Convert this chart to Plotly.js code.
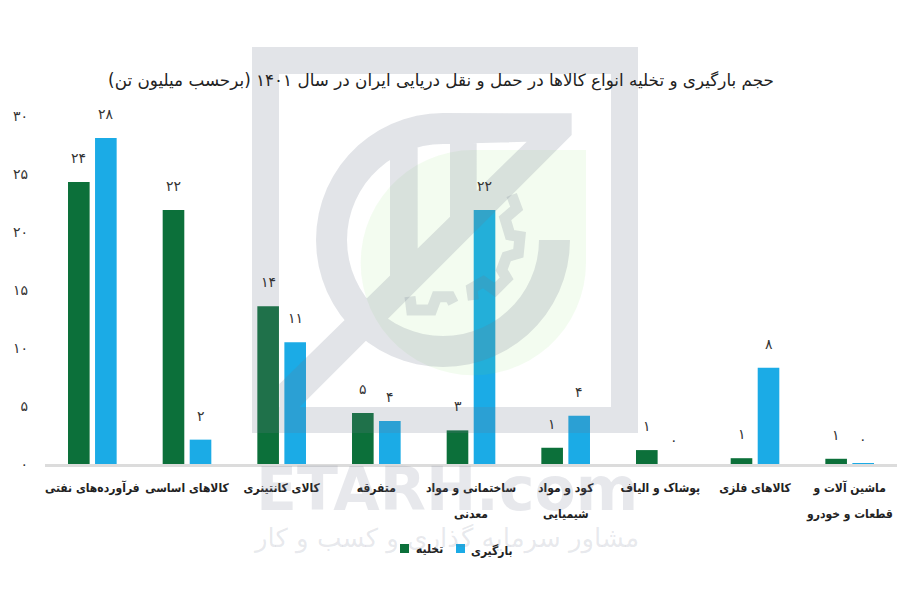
<!DOCTYPE html>
<html><head><meta charset="utf-8">
<script src="https://cdn.plot.ly/plotly-3.0.1.min.js"></script>
<style>html,body{margin:0;padding:0;background:#fff}</style>
</head><body><div id="chart" style="width:900px;height:600px"></div>
<script>
const categories=['فرآورده‌های نفتی','کالاهای اساسی','کالای کانتینری','متفرقه','ساختمانی و مواد','کود و مواد','پوشاک و الیاف','کالاهای فلزی','ماشین آلات و'];
const categoryLine2=['','','','','معدنی','شیمیایی','','','قطعات و خودرو'];
const unloading=[24.3,21.9,13.6,4.4,2.9,1.4,1.2,0.5,0.45];
const loading=[28.1,2.1,10.5,3.7,21.9,4.15,0,8.3,0.05];
const unloadingLabels=['۲۴','۲۲','۱۴','۵','۳','۱','۱','۱','۱'];
const loadingLabels=['۲۸','۲','۱۱','۴','۲۲','۴','۰','۸','۰'];
const yTicks=[0,5,10,15,20,25,30];
const yTickLabels=['۰','۵','۱۰','۱۵','۲۰','۲۵','۳۰'];
const seriesNames=['تخلیه','بارگیری'];
const seriesColors=['#0c703a','#1babe6'];
const FONT='"DejaVu Sans", sans-serif';
const BOLD='"DejaVu Sans Condensed", "DejaVu Sans", sans-serif';

// page-pixel helpers for the background watermark and the compact key
const L=45,R=897,T=116,B=464;
const px=x=>(x-L)/(R-L), py=y=>(B-y)/(B-T);
function poly(pts){
  let a=0;pts.forEach((p,i)=>{const q=pts[(i+1)%pts.length];a+=p[0]*q[1]-q[0]*p[1];});
  const o=a<0?pts.slice().reverse():pts;
  return 'M'+o.map(p=>px(p[0]).toFixed(5)+','+py(p[1]).toFixed(5)).join('L')+'Z';
}
const z=(x,y)=>[240+x/3,40+y/3];
function ring(){
  const cx=443,cy=240,ro=127,ri=96,pts=[];
  for(let a=0;a<=270;a+=6)pts.push([cx+ro*Math.cos(a*Math.PI/180),cy+ro*Math.sin(a*Math.PI/180)]);
  pts.push(z(995,220),z(995,285),z(860,305));
  for(let a=270;a>=0;a-=6)pts.push([cx+ri*Math.cos(a*Math.PI/180),cy+ri*Math.sin(a*Math.PI/180)]);
  return pts;
}
function disc(){
  const pts=[],cx=240+700/3,cy=40+668/3,r=338/3;
  for(let a=0;a<=270;a+=6)pts.push([cx+r*Math.cos(a*Math.PI/180),cy+r*Math.sin(a*Math.PI/180)]);
  pts.push([cx+r,cy-r]);
  return pts;
}
const grey=[
  [[252,47],[638,47],[638,74],[252,74]],
  [[252,407],[638,407],[638,433],[252,433]],
  [[252,47],[279,47],[279,433],[252,433]],
  [[611,47],[638,47],[638,433],[611,433]],
  ring(),
  [z(995,285),z(180,1100),z(118,1162),z(118,1032),z(860,305)],
  [z(450,360),z(533,290),z(533,700),z(450,760)],
  [z(630,290),z(710,290),z(710,470),z(630,540)]
].map(poly).join('');
const WM='rgba(110,120,140,0.2)';
const WMT='rgba(110,120,140,0.17)';
const gearPts=[[815,465],[830,505],[795,535],[810,585],[840,590],[835,640],[800,650],[785,690],[800,715],[765,750],[730,725],[695,745],[700,780]].map(p=>z(p[0],p[1]));
const gearPts2=[[640,790],[630,770],[590,770],[575,810],[515,810],[510,770]].map(p=>z(p[0],p[1]));
const line=pts=>'M'+pts.map(p=>px(p[0]).toFixed(5)+','+py(p[1]).toFixed(5)).join('L');
const base={xref:'paper',yref:'paper',layer:'above'};
const shapes=[
  {...base,type:'path',path:poly(disc()),fillcolor:'rgba(120,220,90,0.09)',line:{width:0}},
  {...base,type:'path',path:grey,fillrule:'nonzero',fillcolor:WM,line:{width:0}},
  {...base,type:'path',path:line(gearPts),line:{width:11,color:WM}},
  {...base,type:'path',path:line(gearPts2),line:{width:11,color:WM}},
  {...base,type:'rect',x0:px(400),x1:px(409),y0:py(553),y1:py(544),fillcolor:seriesColors[0],line:{width:0}},
  {...base,type:'rect',x0:px(456),x1:px(465),y0:py(553),y1:py(544),fillcolor:seriesColors[1],line:{width:0}}
];

const annotations=[
  {xref:'paper',yref:'paper',x:px(447),y:py(489),xanchor:'center',yanchor:'middle',text:'ETARH.com',showarrow:false,font:{family:FONT,size:60,weight:700,color:WMT}},
  {xref:'paper',yref:'paper',x:px(446),y:py(538),xanchor:'center',yanchor:'middle',text:'مشاور سرمایه گذاری و کسب و کار',showarrow:false,font:{family:FONT,size:26,color:WMT}},
  {xref:'paper',yref:'paper',x:px(414),y:py(549),xanchor:'left',yanchor:'middle',text:seriesNames[0],showarrow:false,font:{family:BOLD,size:12,weight:700,color:'#222'}},
  {xref:'paper',yref:'paper',x:px(469),y:py(551),xanchor:'left',yanchor:'middle',text:seriesNames[1],showarrow:false,font:{family:BOLD,size:12,weight:700,color:'#222'}}
];
categories.forEach((c,i)=>{
  annotations.push({x:c,y:unloading[i],xref:'x',yref:'y',xshift:-13.5,yshift:24,text:unloadingLabels[i],showarrow:false,font:{family:FONT,size:14,color:'#333'}});
  annotations.push({x:c,y:loading[i],xref:'x',yref:'y',xshift:13.5,yshift:24,text:loadingLabels[i],showarrow:false,font:{family:FONT,size:14,color:'#333'}});
  if(categoryLine2[i])annotations.push({x:c,xref:'x',yref:'paper',y:py(514),xanchor:'center',yanchor:'middle',text:categoryLine2[i],showarrow:false,font:{family:BOLD,size:12,weight:700,color:'#222'}});
});

const data=[
  {type:'bar',name:seriesNames[0],x:categories,y:unloading,marker:{color:seriesColors[0]}},
  {type:'bar',name:seriesNames[1],x:categories,y:loading,marker:{color:seriesColors[1]}}
];
const layout={
  width:900,height:600,paper_bgcolor:'#fff',plot_bgcolor:'rgba(0,0,0,0)',showlegend:false,
  margin:{l:L,r:900-R,t:T,b:600-B},
  barmode:'group',bargap:0.429,bargroupgap:0.2,
  title:{text:'حجم بارگیری و تخلیه انواع کالاها در حمل و نقل دریایی ایران در سال ۱۴۰۱ (برحسب میلیون تن)',x:441/900,xanchor:'center',y:1-80/600,yanchor:'middle',font:{family:FONT,size:16.8,color:'#222'}},
  xaxis:{type:'category',tickangle:0,showline:true,linecolor:'#dcdcdc',linewidth:3,showgrid:false,ticks:'',ticklabelstandoff:11,tickfont:{family:BOLD,size:12,weight:700,color:'#222'},fixedrange:true},
  yaxis:{range:[0,30],tickvals:yTicks,ticktext:yTickLabels,showgrid:false,zeroline:false,showline:false,ticks:'',ticklabelstandoff:16,tickfont:{family:FONT,size:14,color:'#333'},fixedrange:true},
  shapes,annotations
};
Plotly.newPlot('chart',data,layout,{displayModeBar:false,responsive:false});
</script></body></html>
